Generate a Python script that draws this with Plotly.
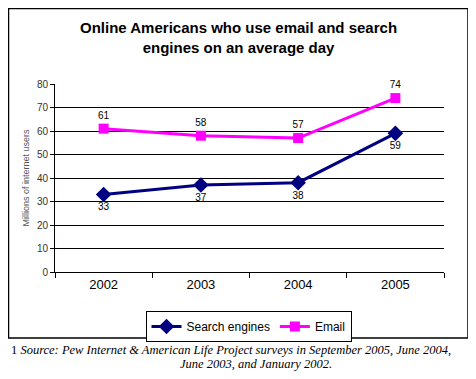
import plotly.graph_objects as go

years = ["2002", "2003", "2004", "2005"]
search_engines = [33, 37, 38, 59]
email = [61, 58, 57, 74]
y_ticks = [0, 10, 20, 30, 40, 50, 60, 70, 80]

OFF = 8  # browser body margin
W, H = 468, 371
L, R, T, B = 55 - OFF, 444 - OFF, 84 - OFF, 272 - OFF

def px(x):
    return (x - OFF - L) / (R - L)

def py(y):
    return (B - (y - OFF)) / (B - T)

fig = go.Figure()
fig.add_trace(go.Scatter(
    x=years, y=search_engines, name="Search engines", mode="lines+markers+text",
    line=dict(color="#000080", width=3),
    marker=dict(symbol="diamond", size=12, color="#000080"),
    text=[str(v) for v in search_engines], textposition="bottom center",
    textfont=dict(family="Arial", size=10, color="#000000"),
    cliponaxis=False,
))
fig.add_trace(go.Scatter(
    x=years, y=email, name="Email", mode="lines+markers+text",
    line=dict(color="#FF00FF", width=3),
    marker=dict(symbol="square", size=10, color="#FF00FF"),
    text=[str(v) for v in email], textposition="top center",
    textfont=dict(family="Arial", size=10, color="#000000"),
    cliponaxis=False,
))

fig.update_layout(
    width=W, height=H,
    margin=dict(l=L, r=W - R, t=T, b=H - B, autoexpand=False),
    paper_bgcolor="white", plot_bgcolor="white",
    font=dict(family="Arial", size=11, color="#000000"),
    showlegend=True,
    legend=dict(
        orientation="h", x=px(248.5), xanchor="center", y=py(311), yanchor="top",
        bordercolor="#000000", borderwidth=1, bgcolor="white",
        font=dict(family="Arial", size=12, color="#000000"),
        itemwidth=30, tracegroupgap=0,
    ),
    xaxis=dict(
        type="category", tickson="boundaries", ticks="outside", ticklen=5,
        tickcolor="#000000", showline=True, linecolor="#000000", linewidth=1,
        showgrid=False, tickfont=dict(family="Arial", size=13, color="#000000"),
        range=[-0.5, 3.5],
    ),
    yaxis=dict(
        range=[0, 80], tickvals=y_ticks, ticks="outside", ticklen=4,
        tickcolor="#000000", showline=True, linecolor="#000000", linewidth=1,
        showgrid=True, gridcolor="#000000", gridwidth=1, zeroline=False,
        tickfont=dict(family="Arial", size=10, color="#333333"),
        title=dict(text="Millions of internet users", standoff=5,
                   font=dict(family="Arial", size=9, color="#555555")),
    ),
)

fig.add_shape(type="rect", xref="paper", yref="paper",
              x0=px(OFF + 0.5), x1=px(468), y0=py(338), y1=py(OFF + 0.5),
              line=dict(color="#000000", width=1.5), fillcolor="rgba(0,0,0,0)", layer="below")

fig.add_annotation(
    xref="paper", yref="paper", x=px(238), y=py(37), xanchor="center", yanchor="middle",
    text="<b>Online Americans who use email and search<br>engines on an average day</b>",
    showarrow=False, font=dict(family="Arial", size=15, color="#000000"),
)

fig.add_annotation(
    xref="paper", yref="paper", x=px(9), y=py(350), xanchor="left", yanchor="middle",
    text="1 <i>Source: Pew Internet &amp; American Life Project surveys in September 2005, June 2004,</i>",
    showarrow=False, font=dict(family="Liberation Serif", size=12.5, color="#000000"),
)
fig.add_annotation(
    xref="paper", yref="paper", x=px(256), y=py(364), xanchor="center", yanchor="middle",
    text="<i>June 2003, and January 2002.</i>",
    showarrow=False, font=dict(family="Liberation Serif", size=12.5, color="#000000"),
)

fig.write_html("out.html")
